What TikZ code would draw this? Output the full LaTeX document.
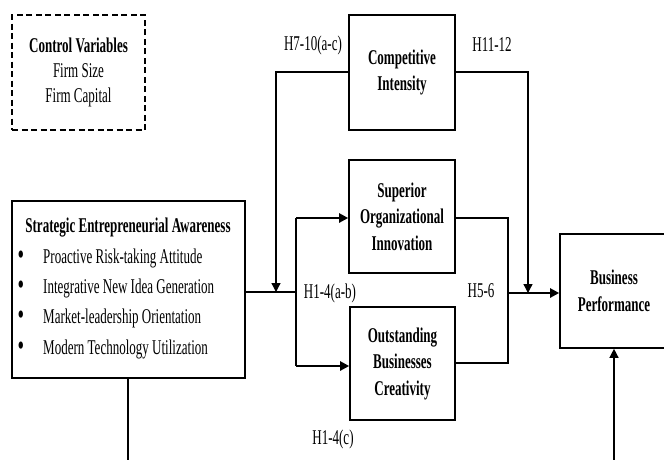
\documentclass[tikz,border=0pt]{standalone}
\usepackage{fontspec}
\setmainfont{Liberation Serif}[FakeStretch=0.62]
\usetikzlibrary{arrows.meta}
\begin{document}
\begin{tikzpicture}[x=1pt,y=-1pt,
  box/.style={draw, line width=1.6pt, align=center, inner sep=0pt,
    font=\fontsize{21}{26.5}\selectfont\bfseries},
  txt/.style={inner sep=0pt, font=\fontsize{21}{25}\selectfont},
  bul/.style={inner sep=0pt, font=\fontsize{30}{30}\selectfont},
  conn/.style={line width=1.3pt},
  bold conn/.style={line width=2.2pt},
  arr/.style={-{Triangle[length=9pt,width=9pt]}}
]
\useasboundingbox (0,0) rectangle (664,459);

% control variables
\node[draw, dashed, line width=1.6pt, dash pattern=on 6pt off 3.5pt,
  minimum width=133pt, minimum height=115pt, inner sep=0pt, align=center,
  font=\fontsize{21}{25}\selectfont] (cv) at (78.5,72.5)
  {\textbf{Control Variables}\\Firm Size\\Firm Capital};

% boxes
\node[box, minimum width=106pt, minimum height=115pt] (ci) at (402,72.5) {Competitive\\Intensity};
\node[box, minimum width=106pt, minimum height=113pt] (soi) at (402,216.5) {Superior\\Organizational\\Innovation};
\node[box, minimum width=105pt, minimum height=113pt] (obc) at (402.5,363.5) {Outstanding\\Businesses\\Creativity};
\node[box, minimum width=108pt, minimum height=114pt] (bp) at (614,291) {Business\\Performance};
\node[box, minimum width=233pt, minimum height=177pt] (sea) at (128.5,289.5) {};

% SEA contents
\node[txt, font=\fontsize{21}{25}\selectfont\bfseries] (seat) at (128,228) {Strategic Entrepreneurial Awareness};
\node[bul, anchor=center] (b1) at (21,258) {\textbullet};
\node[bul, anchor=center] (b2) at (21,288) {\textbullet};
\node[bul, anchor=center] (b3) at (21,318) {\textbullet};
\node[bul, anchor=center] (b4) at (21,349) {\textbullet};
\node[txt, anchor=west] (i1) at (43,258) {Proactive Risk-taking Attitude};
\node[txt, anchor=west] (i2) at (43,288) {Integrative New Idea Generation};
\node[txt, anchor=west] (i3) at (43,318) {Market-leadership Orientation};
\node[txt, anchor=west] (i4) at (43,349) {Modern Technology Utilization};

% labels
\node[txt] (l1) at (313,45) {H7-10(a-c)};
\node[txt] (l2) at (492,45) {H11-12};
\node[txt] (l3) at (330,293) {H1-4(a-b)};
\node[txt] (l4) at (481,291) {H5-6};
\node[txt] (l5) at (333,439) {H1-4(c)};

% junction coordinates
\coordinate (jl) at (296,292);
\coordinate (jt) at (296,218);
\coordinate (jb) at (296,366);
\coordinate (ml) at (276,292);
\coordinate (jr) at (508,293);
\coordinate (mr) at (528,293);
\coordinate (seabot) at (128,462);
\coordinate (bpbot) at (614,462);

% connectors
\draw[conn, arr] (ci.west |- 0,72) -- (276,72) -- (ml);
\draw[conn, arr] (ci.east |- 0,72) -- (528,72) -- (mr);
\draw[bold conn] (sea.east |- jl) -- (jl);
\draw[conn] (jt) -- (jb);
\draw[bold conn, arr] (jt) -- (soi.west |- jt);
\draw[bold conn, arr] (jb) -- (obc.west |- jb);
\draw[conn] (soi.east |- 0,218) -- (508,218) -- (508,363) -- (obc.east |- 0,363);
\draw[bold conn, arr] (jr) -- (bp.west |- jr);
\draw[conn] (sea.south -| seabot) -- (seabot);
\draw[conn, arr] (bpbot) -- (bp.south -| bpbot);
\end{tikzpicture}
\end{document}
